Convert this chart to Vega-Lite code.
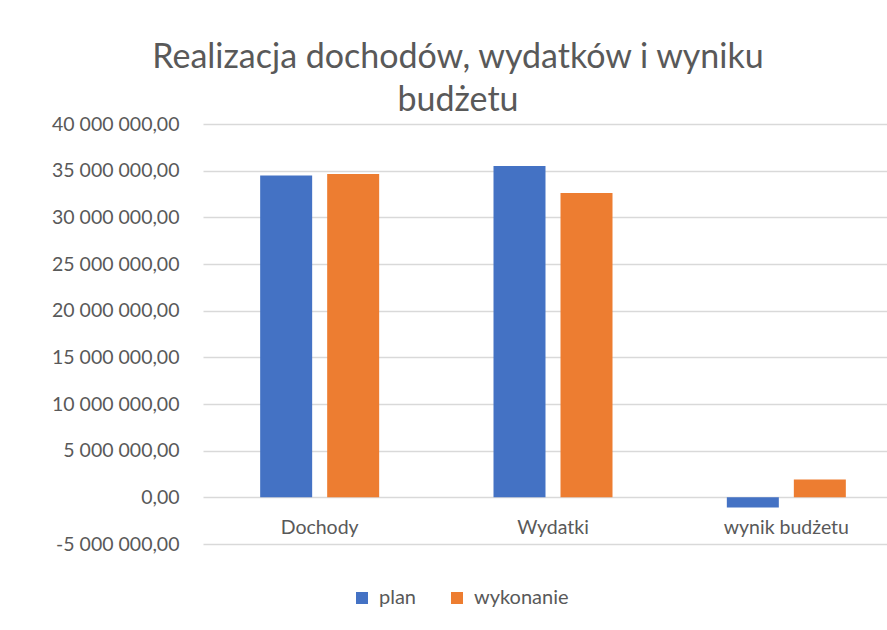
{
  "$schema": "https://vega.github.io/schema/vega-lite/v6.json",
  "autosize": {"type": "none"},
  "width": 684,
  "height": 420,
  "padding": {"left": 203, "top": 124, "right": 0, "bottom": 86},
  "background": "white",
  "config": {
    "font": "Lato",
    "view": {"stroke": null},
    "locale": {"number": {"decimal": ",", "thousands": " ", "grouping": [3], "currency": ["", ""], "minus": "-"}}
  },
  "title": {
    "text": ["Realizacja dochodów, wydatków i wyniku", "budżetu"],
    "fontSize": 34,
    "fontWeight": "normal",
    "color": "#595959",
    "anchor": "middle",
    "frame": "group",
    "dx": -87,
    "offset": -4,
    "lineHeight": 43
  },
  "data": {
    "values": [
      {"kategoria": "Dochody", "seria": "plan", "wartosc": 34480000},
      {"kategoria": "Dochody", "seria": "wykonanie", "wartosc": 34650000},
      {"kategoria": "Wydatki", "seria": "plan", "wartosc": 35500000},
      {"kategoria": "Wydatki", "seria": "wykonanie", "wartosc": 32600000},
      {"kategoria": "wynik budżetu", "seria": "plan", "wartosc": -1100000},
      {"kategoria": "wynik budżetu", "seria": "wykonanie", "wartosc": 1900000}
    ]
  },
  "mark": {"type": "bar"},
  "encoding": {
    "x": {
      "field": "kategoria",
      "type": "nominal",
      "sort": null,
      "title": null,
      "scale": {"range": [0, 700], "paddingInner": 0.49, "paddingOuter": 0.245},
      "axis": {
        "offset": -47,
        "domain": false,
        "ticks": false,
        "labelAngle": 0,
        "labelFontSize": 19.5,
        "labelColor": "#595959",
        "labelPadding": 21
      }
    },
    "xOffset": {
      "field": "seria",
      "type": "nominal",
      "scale": {"paddingInner": 0.224, "paddingOuter": 0}
    },
    "y": {
      "field": "wartosc",
      "type": "quantitative",
      "title": null,
      "scale": {"domain": [-5000000, 40000000], "nice": false, "zero": false},
      "axis": {
        "values": [-5000000, 0, 5000000, 10000000, 15000000, 20000000, 25000000, 30000000, 35000000, 40000000],
        "format": ",.2f",
        "domain": false,
        "ticks": false,
        "labelFontSize": 19.5,
        "labelColor": "#595959",
        "labelPadding": 24,
        "gridColor": "#d9d9d9",
        "gridWidth": 1.3
      }
    },
    "color": {
      "field": "seria",
      "type": "nominal",
      "scale": {"domain": ["plan", "wykonanie"], "range": ["#4472C4", "#ED7D31"]},
      "legend": {
        "title": null,
        "orient": "none",
        "direction": "horizontal",
        "legendX": 149,
        "legendY": 464,
        "symbolType": "square",
        "symbolSize": 144,
        "symbolStrokeWidth": 0,
        "labelFontSize": 20,
        "labelColor": "#595959",
        "labelOffset": 7,
        "columnPadding": 30
      }
    }
  }
}
